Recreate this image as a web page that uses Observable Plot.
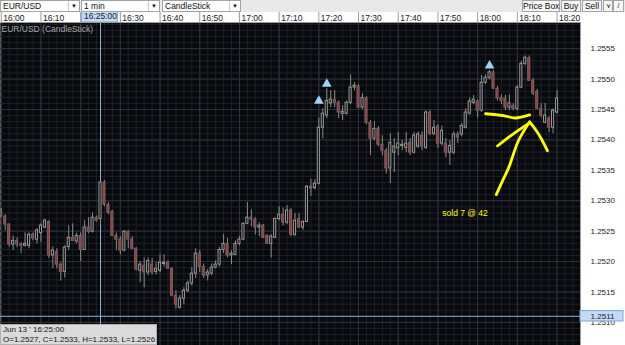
<!DOCTYPE html>
<html><head><meta charset="utf-8">
<script src="https://cdn.jsdelivr.net/npm/d3@7"></script>
<script src="https://cdn.jsdelivr.net/npm/@observablehq/plot@0.6"></script>
<style>
html,body{margin:0;padding:0;background:#fff;}
body{width:625px;height:345px;overflow:hidden;font-family:"Liberation Sans",Arial,sans-serif;}
#wrap{position:relative;width:625px;height:345px;}
#toolbar{position:absolute;left:0;top:0;width:625px;height:12px;background:#e9e9e9;}
.box{position:absolute;top:0;border:1px solid #a3a3a3;background:#fff;font-size:8.5px;line-height:10px;color:#111;padding-left:2px;box-sizing:border-box;height:12px;white-space:nowrap;}
.arr{position:absolute;right:0;top:0;width:10px;height:10px;border-left:1px solid #c8c8c8;font-size:6px;text-align:center;line-height:10px;}
.btn{position:absolute;top:0;height:12px;border:1px solid #a3a3a3;background:#f7f7f7;font-size:8.5px;line-height:10px;color:#111;text-align:center;box-sizing:border-box;white-space:nowrap;overflow:hidden;}
#chart{position:absolute;left:0;top:12px;}
#info{position:absolute;left:0;top:324px;width:157px;height:21px;background:#dadada;border:1px solid #b0b0b0;box-sizing:border-box;font-size:8px;line-height:9.5px;color:#111;padding-left:2px;white-space:nowrap;}
</style></head>
<body><div id="wrap">
<div id="toolbar">
  <div class="box" style="left:0;width:80px">EUR/USD<span class="arr">&#9660;</span></div>
  <div class="box" style="left:81px;width:79px">1 min<span class="arr">&#9660;</span></div>
  <div class="box" style="left:162px;width:79px">CandleStick<span class="arr">&#9660;</span></div>
  <div class="btn" style="left:522px;width:38px">Price Box</div>
  <div class="btn" style="left:561px;width:20px">Buy</div>
  <div class="btn" style="left:582px;width:20px">Sell</div>
  <div class="btn" style="left:603px;width:10px;font-size:7px">&#8910;</div>
  <div class="btn" style="left:613px;width:11px;font-size:7px">/</div>
</div>
<div id="chart"></div>
<div id="info">Jun 13 ' 16:25:00<br>O=1.2527, C=1.2533, H=1.2533, L=1.2526</div>
</div>
<script>
// EUR/USD 1-minute candles, 16:00 .. 18:20 (Jun 13)
const open = [
1.25279,1.25274,1.25261,1.25228,1.25234,1.25228,1.25226,1.25226,1.25244,1.25236,
1.25247,1.25256,1.25265,1.25210,1.25216,1.25195,1.25183,1.25224,1.25239,1.25233,
1.25242,1.25219,1.25256,1.25249,1.25272,1.25270,1.25330,1.25293,1.25282,1.25242,
1.25236,1.25218,1.25249,1.25236,1.25221,1.25185,1.25193,1.25182,1.25195,1.25183,
1.25185,1.25196,1.25198,1.25188,1.25144,1.25124,1.25139,1.25152,1.25164,1.25180,
1.25213,1.25191,1.25177,1.25180,1.25190,1.25195,1.25219,1.25229,1.25210,1.25211,
1.25229,1.25236,1.25262,1.25272,1.25269,1.25256,1.25259,1.25242,1.25229,1.25239,
1.25270,1.25277,1.25264,1.25284,1.25244,1.25270,1.25256,1.25265,1.25323,1.25321,
1.25328,1.25420,1.25440,1.25460,1.25466,1.25461,1.25443,1.25443,1.25461,1.25486,
1.25488,1.25453,1.25468,1.25428,1.25402,1.25418,1.25392,1.25382,1.25353,1.25379,
1.25386,1.25390,1.25387,1.25395,1.25379,1.25389,1.25407,1.25387,1.25445,1.25410,
1.25422,1.25394,1.25394,1.25379,1.25379,1.25409,1.25409,1.25420,1.25443,1.25461,
1.25463,1.25448,1.25494,1.25502,1.25511,1.25484,1.25469,1.25468,1.25453,1.25456,
1.25451,1.25486,1.25525,1.25534,1.25497,1.25479,1.25451,1.25428,1.25435,1.25420,
1.25445];
const high = [
1.25287,1.25277,1.25262,1.25242,1.25239,1.25231,1.25247,1.25247,1.25247,1.25254,
1.25262,1.25270,1.25267,1.25224,1.25221,1.25198,1.25226,1.25259,1.25262,1.25247,
1.25247,1.25267,1.25272,1.25280,1.25275,1.25330,1.25333,1.25297,1.25284,1.25247,
1.25241,1.25251,1.25251,1.25241,1.25223,1.25200,1.25206,1.25206,1.25205,1.25198,
1.25211,1.25211,1.25201,1.25190,1.25152,1.25144,1.25157,1.25168,1.25190,1.25221,
1.25218,1.25196,1.25187,1.25196,1.25201,1.25223,1.25244,1.25238,1.25218,1.25234,
1.25241,1.25264,1.25297,1.25285,1.25272,1.25264,1.25261,1.25244,1.25244,1.25272,
1.25290,1.25288,1.25292,1.25287,1.25279,1.25279,1.25267,1.25325,1.25335,1.25335,
1.25436,1.25451,1.25484,1.25481,1.25481,1.25464,1.25456,1.25464,1.25507,1.25494,
1.25491,1.25476,1.25471,1.25432,1.25430,1.25422,1.25407,1.25386,1.25410,1.25402,
1.25412,1.25399,1.25412,1.25402,1.25412,1.25413,1.25413,1.25448,1.25448,1.25432,
1.25425,1.25423,1.25402,1.25399,1.25413,1.25413,1.25427,1.25451,1.25469,1.25473,
1.25466,1.25506,1.25507,1.25514,1.25514,1.25488,1.25474,1.25473,1.25474,1.25460,
1.25489,1.25529,1.25538,1.25538,1.25501,1.25483,1.25460,1.25460,1.25438,1.25451,
1.25481];
const low = [
1.25272,1.25251,1.25224,1.25218,1.25223,1.25213,1.25224,1.25221,1.25234,1.25229,
1.25231,1.25254,1.25205,1.25188,1.25188,1.25168,1.25173,1.25218,1.25233,1.25229,
1.25200,1.25218,1.25246,1.25247,1.25265,1.25260,1.25290,1.25277,1.25241,1.25218,
1.25211,1.25216,1.25221,1.25219,1.25185,1.25165,1.25157,1.25177,1.25178,1.25178,
1.25182,1.25191,1.25187,1.25142,1.25122,1.25122,1.25129,1.25149,1.25160,1.25172,
1.25182,1.25172,1.25168,1.25177,1.25188,1.25191,1.25213,1.25206,1.25195,1.25210,
1.25226,1.25234,1.25261,1.25257,1.25244,1.25241,1.25238,1.25228,1.25206,1.25238,
1.25267,1.25259,1.25261,1.25241,1.25241,1.25254,1.25251,1.25264,1.25307,1.25318,
1.25326,1.25402,1.25435,1.25453,1.25453,1.25435,1.25432,1.25441,1.25458,1.25481,
1.25451,1.25450,1.25425,1.25374,1.25399,1.25389,1.25374,1.25344,1.25328,1.25346,
1.25374,1.25382,1.25379,1.25374,1.25377,1.25386,1.25382,1.25384,1.25407,1.25407,
1.25386,1.25390,1.25371,1.25358,1.25376,1.25394,1.25405,1.25418,1.25441,1.25458,
1.25436,1.25445,1.25491,1.25499,1.25483,1.25464,1.25458,1.25448,1.25448,1.25448,
1.25448,1.25484,1.25522,1.25496,1.25473,1.25450,1.25436,1.25427,1.25412,1.25410,
1.25443];
const close = [
1.25275,1.25261,1.25228,1.25234,1.25228,1.25226,1.25229,1.25244,1.25238,1.25251,
1.25259,1.25267,1.25210,1.25218,1.25195,1.25183,1.25223,1.25239,1.25234,1.25242,
1.25219,1.25256,1.25249,1.25272,1.25267,1.25330,1.25293,1.25280,1.25242,1.25236,
1.25218,1.25249,1.25236,1.25221,1.25187,1.25195,1.25182,1.25201,1.25182,1.25188,
1.25198,1.25198,1.25188,1.25144,1.25129,1.25139,1.25152,1.25164,1.25180,1.25213,
1.25191,1.25177,1.25182,1.25190,1.25195,1.25219,1.25229,1.25210,1.25213,1.25229,
1.25236,1.25262,1.25272,1.25269,1.25256,1.25259,1.25239,1.25229,1.25241,1.25270,
1.25277,1.25264,1.25284,1.25244,1.25267,1.25256,1.25265,1.25323,1.25320,1.25328,
1.25420,1.25443,1.25464,1.25466,1.25461,1.25445,1.25446,1.25461,1.25486,1.25489,
1.25453,1.25469,1.25428,1.25402,1.25418,1.25392,1.25382,1.25353,1.25395,1.25389,
1.25394,1.25392,1.25394,1.25379,1.25407,1.25409,1.25389,1.25445,1.25410,1.25420,
1.25394,1.25415,1.25379,1.25390,1.25409,1.25404,1.25423,1.25445,1.25463,1.25466,
1.25448,1.25494,1.25502,1.25511,1.25484,1.25468,1.25464,1.25453,1.25460,1.25451,
1.25486,1.25525,1.25535,1.25497,1.25476,1.25451,1.25440,1.25440,1.25420,1.25448,
1.25468];

// axis labels and reference levels
const timeTickLabels = ["16:00","16:10","16:30","16:40","16:50","17:00","17:10","17:20","17:30","17:40","17:50","18:00","18:10","18:20"];
const timeSeparators = ["16:00","16:10","16:20","16:30","16:40","16:50","17:00","17:10","17:20","17:30","17:40","17:50","18:00","18:10","18:20"];
const priceTicks = [1.2555,1.2550,1.2545,1.2540,1.2535,1.2530,1.2525,1.2520,1.2515,1.2510];
const crossTimeLabel = "16:25";
const crossPrice = 1.2511;
// markers (minutes after 16:00, price)
const markerMinutes = [80, 82, 123];
const markerPrices = [1.25464, 1.25492, 1.25522];
// hand-drawn yellow annotation strokes: [minutes after 16:00, price]
const strokeFlat = [[122.0,1.25443],[126.5,1.25440],[129.5,1.25436],[133.1,1.25441]];
const strokeLong = [[124.7,1.25310],[126.3,1.25333],[127.8,1.25354],[130.3,1.25399],[133.1,1.25430]];
const strokeShort = [[125.0,1.25390],[129.0,1.25410],[133.1,1.25428]];
const strokeRight = [[133.3,1.25428],[135.3,1.25410],[137.6,1.25382]];
const noteText = "sold 7 @ 42";
const notePos = [111.1, 1.25279];

const day = Date.UTC(2012,5,13);
const atMin = m => new Date(day + 16*3600000 + m*60000);
const parseHM = s => { const [h,mm] = s.split(":").map(Number); return new Date(day + h*3600000 + mm*60000); };
const candles = open.map((o,i) => ({t: atMin(i), o, h: high[i], l: low[i], c: close[i]}));

const xDomain = [atMin(-0.19), atMin(145.91)];
const yDomain = [1.25062, 1.25593];
const yTop = 1.25612;
const plotRight = 580, width = 625;
const panelEnd = new Date(+xDomain[0] + (623/plotRight)*(xDomain[1]-xDomain[0]));

const minorX = d3.utcMinute.every(2).range(xDomain[0], xDomain[1]);
const majorX = d3.utcMinute.every(10).range(xDomain[0], xDomain[1]);
const minorY = d3.range(12506, 12560).map(v => v/10000);
const majorY = minorY.filter(v => Math.round(v*10000) % 5 === 0);
const crossT = parseHM(crossTimeLabel);
const fmt = d3.utcFormat("%H:%M");
const strokes = [strokeFlat, strokeLong, strokeShort, strokeRight]
  .flatMap((s,k) => s.map(([m,p]) => ({k, t: atMin(m), p})));

const chart = Plot.plot({
  width, height: 333,
  marginTop: 10, marginRight: width - plotRight, marginBottom: 0, marginLeft: 0,
  style: {background: "#ffffff", fontFamily: "'Liberation Sans', Arial, sans-serif", fontSize: "8.5px", overflow: "hidden"},
  x: {type: "utc", domain: xDomain, axis: null, label: null},
  y: {domain: yDomain, axis: null, label: null},
  marks: [
    Plot.frame({fill: "#08090c", stroke: null}),
    Plot.ruleX(minorX, {stroke: "#1c2028"}),
    Plot.ruleY(minorY, {stroke: "#1c2028"}),
    Plot.ruleX(majorX, {stroke: "#2e333c"}),
    Plot.ruleY(majorY, {stroke: "#2e333c"}),
    Plot.text(["EUR/USD (CandleStick)"], {frameAnchor: "top-left", dx: 1, dy: 3, lineAnchor: "top", fill: "#a8a8a8", fontSize: 8.5}),
    // crosshair
    Plot.ruleX([crossT], {stroke: "#86aee0", strokeWidth: 1}),
    Plot.ruleY([crossPrice], {stroke: "#86aee0", strokeWidth: 1}),
    // candles
    Plot.ruleX(candles, {x: "t", y1: "l", y2: "h", stroke: "#8e8e8e", strokeWidth: 1}),
    Plot.rect(candles, {
      x1: d => new Date(+d.t - 16000), x2: d => new Date(+d.t + 16000),
      y1: "o", y2: "c",
      fill: d => d.c < d.o ? "#c3262d" : "#0b0b0d",
      stroke: d => d.c < d.o ? "#6a6a6a" : "#9a9a9a", strokeWidth: 1
    }),
    Plot.dot(markerMinutes.map((m,i) => ({t: atMin(m), p: markerPrices[i]})), {x: "t", y: "p", symbol: "triangle", r: 3.6, fill: "#9dd3f5", stroke: null}),
    // annotations
    Plot.line(strokes, {x: "t", y: "p", z: "k", stroke: "#ffff00", strokeWidth: 2.8, curve: "catmull-rom", strokeLinecap: "round"}),
    Plot.text([noteText], {x: atMin(notePos[0]), y: notePos[1], textAnchor: "start", fill: "#ffff00", fontSize: 8.5}),
    // time axis row
    Plot.ruleX(timeSeparators.map(parseHM), {y1: yDomain[1], y2: yTop, stroke: "#9c9c9c"}),
    Plot.axisX(timeTickLabels.map(parseHM), {anchor: "top", label: null, tickSize: 0, tickPadding: 1.5, tickFormat: fmt, textAnchor: "start", dx: 2, fontSize: 8.5, fill: "#1a1a1a"}),
    Plot.rect([crossT], {x1: d => new Date(+d - 282000), x2: d => new Date(+d + 262000), y1: yDomain[1], y2: yTop, fill: "#c3dbf6", stroke: "#7aa6d6"}),
    Plot.text([crossT], {x: d => d, y: (yDomain[1] + yTop)/2, text: d => d3.utcFormat("%H:%M:%S")(d), fill: "#1a1a1a", fontSize: 8.5}),
    Plot.ruleY([yDomain[1]], {stroke: "#9c9c9c"}),
    // right price axis
    Plot.ruleX([xDomain[1]], {stroke: "#9c9c9c"}),
    Plot.axisY(priceTicks, {anchor: "right", label: null, tickSize: 0, tickPadding: 10, tickFormat: d3.format(".4f"), fontSize: 8, fill: "#1a1a1a"}),
    Plot.rect([crossPrice], {x1: xDomain[1], x2: panelEnd, y1: d => d - 0.000085, y2: d => d + 0.000085, fill: "#c3dbf6", stroke: "#7aa6d6"}),
    Plot.text([crossPrice], {x: xDomain[1], y: d => d, dx: 22, text: d => d3.format(".4f")(d), fill: "#1a1a1a", fontSize: 8})
  ]
});
document.getElementById("chart").appendChild(chart);
</script>
</body></html>
